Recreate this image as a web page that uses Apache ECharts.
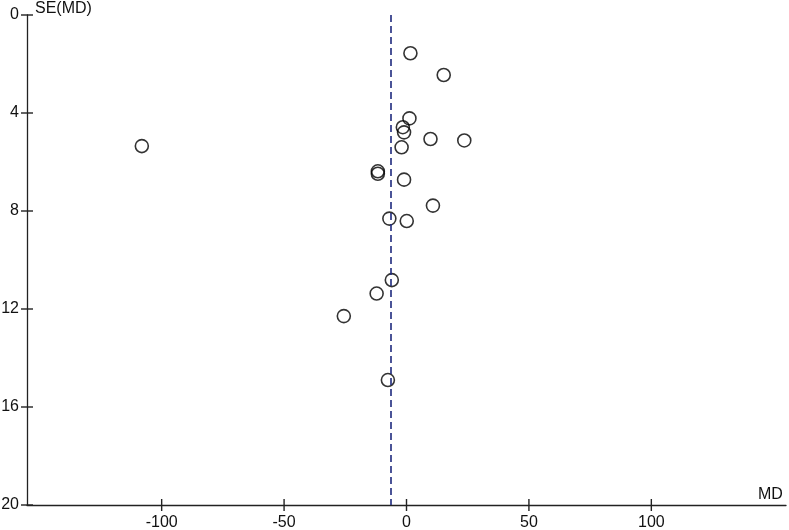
<!DOCTYPE html>
<html>
<head>
<meta charset="utf-8">
<script src="https://cdn.jsdelivr.net/npm/echarts@6/dist/echarts.min.js"></script>
<style>
  html, body { margin: 0; padding: 0; background: #fff; }
  #funnel { width: 789px; height: 530px; }
</style>
</head>
<body>
<div id="funnel"></div>
<script>
// study mean differences and their standard errors
const md = [1.6, 15.2, 1.2, -1.5, -1.0, 9.8, 23.6, -2.0, -11.7, -11.7, -1.0,
            10.8, -7.0, 0.1, -6.0, -12.2, -25.6, -7.6, -108.1];
const se = [1.56, 2.45, 4.22, 4.58, 4.79, 5.06, 5.12, 5.40, 6.38, 6.48, 6.72,
            7.78, 8.31, 8.41, 10.82, 11.37, 12.29, 14.90, 5.35];
const pooledMD = -6.5;
const xMin = -155, xMax = 155, yMin = 0, yMax = 20;
const xTicks = [-100, -50, 0, 50, 100];
const yTicks = [0, 4, 8, 12, 16, 20];

const points = md.map((v, i) => [v, se[i]]);

const font = { fontFamily: 'Liberation Sans, Arial, sans-serif', fontSize: 16, color: '#111' };
const lineStyle = { color: '#222', width: 1.3 };
const tickStyle = { stroke: '#222', lineWidth: 1.4 };

// tick marks that cross the axis lines, placed through the axes' own scales
function tickSeries(data, vertical) {
  return {
    type: 'custom',
    data: data,
    clip: false,
    silent: true,
    z: 4,
    renderItem: function (params, api) {
      const p = api.coord([api.value(0), api.value(1)]);
      const shape = vertical
        ? { x1: p[0], y1: p[1] - 6, x2: p[0], y2: p[1] + 6 }
        : { x1: p[0] - 6, y1: p[1], x2: p[0] + 6, y2: p[1] };
      return { type: 'line', shape: shape, style: tickStyle };
    }
  };
}

let chart = echarts.init(document.getElementById('funnel'));
chart.setOption({
  animation: false,
  grid: { left: 27, right: 3, top: 15, bottom: 25, containLabel: false, outerBoundsMode: 'none' },
  xAxis: {
    type: 'value', min: xMin, max: xMax, position: 'bottom',
    name: 'MD', nameLocation: 'end', nameGap: -28,
    nameTextStyle: Object.assign({}, font, { verticalAlign: 'bottom', padding: [0, 0, 2, 0] }),
    axisLine: { show: true, onZero: false, lineStyle: lineStyle },
    axisTick: { show: false },
    axisLabel: Object.assign({}, font, { margin: 10, customValues: xTicks }),
    splitLine: { show: false }
  },
  yAxis: {
    type: 'value', min: yMin, max: yMax, inverse: true, position: 'left',
    axisLine: { show: true, onZero: false, lineStyle: lineStyle },
    axisTick: { show: false },
    axisLabel: Object.assign({}, font, { margin: 8, customValues: yTicks }),
    splitLine: { show: false }
  },
  graphic: [
    { type: 'text', left: 35, top: 1, style: { text: 'SE(MD)', fill: '#111', font: '16px Liberation Sans, Arial, sans-serif' } }
  ],
  series: [
    {
      type: 'scatter',
      data: points,
      symbol: 'circle',
      symbolSize: 13,
      itemStyle: { color: 'rgba(255,255,255,0)', borderColor: '#000', borderWidth: 1.6 },
      markLine: {
        silent: true,
        symbol: 'none',
        label: { show: false },
        lineStyle: { color: '#1f2a7e', width: 1.6, type: [7, 4] },
        data: [{ xAxis: pooledMD }]
      },
      z: 3
    },
    tickSeries(xTicks.map(v => [v, yMax]), true),
    tickSeries(yTicks.map(v => [xMin, v]), false)
  ]
});
window.onresize = function () {
  chart.resize();
};
</script>
</body>
</html>
